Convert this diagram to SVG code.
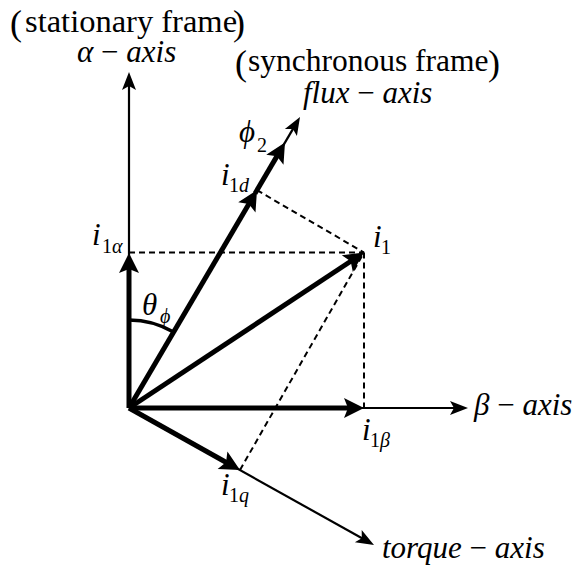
<svg xmlns="http://www.w3.org/2000/svg" width="578" height="571" viewBox="0 0 578 571">
<style>
.t{font-family:"Liberation Serif","Times New Roman","DejaVu Serif",serif;fill:#000}
.i{font-style:italic}
.m{font-size:31px}
.s{font-size:20px}
.p{font-size:36px}
.thin{stroke:#000;stroke-width:2.2;fill:none}
.thick{stroke:#000;stroke-width:5;fill:none}
.dash{stroke:#000;stroke-width:2;stroke-dasharray:6 4;fill:none}
</style>
<defs>
<marker id="ah" markerUnits="userSpaceOnUse" orient="auto" markerWidth="40" markerHeight="40" refX="0" refY="0" style="overflow:visible"><path d="M6,0 L-12,-7 L-8,0 L-12,7 Z" fill="#000"/></marker>
<marker id="ahT" markerUnits="userSpaceOnUse" orient="auto" markerWidth="40" markerHeight="40" refX="0" refY="0" style="overflow:visible"><path d="M10,0 L-10,-10 L-6,0 L-10,10 Z" fill="#000"/></marker>
</defs>
<rect width="578" height="571" fill="#fff"/>
<g id="connectors">
<g id="projections">
<line class="dash" x1="129" y1="252.5" x2="364" y2="252.5"/>
<line class="dash" x1="364" y1="252.5" x2="364" y2="408"/>
<line class="dash" x1="257" y1="190.2" x2="364" y2="252.5"/>
<line class="dash" x1="240" y1="470" x2="364" y2="252.5"/>
</g>
<g id="axes">
<line class="thin" x1="129" y1="408" x2="129" y2="78" marker-end="url(#ah)"/>
<line class="thin" x1="129" y1="408" x2="462" y2="408" marker-end="url(#ah)"/>
<line class="thin" x1="129" y1="408" x2="296.96" y2="122.17" marker-end="url(#ah)"/>
<line class="thin" x1="129" y1="408" x2="368.76" y2="542.07" marker-end="url(#ah)"/>
</g>
<g id="vectors">
<line class="thick" x1="129" y1="408" x2="129" y2="263" marker-end="url(#ahT)"/>
<line class="thick" x1="129" y1="408" x2="354" y2="408" marker-end="url(#ahT)"/>
<line class="thick" x1="129" y1="408" x2="355.66" y2="258.02" marker-end="url(#ahT)"/>
<line class="thick" x1="129" y1="408" x2="251.93" y2="198.82" marker-end="url(#ahT)"/>
<line class="thick" x1="255" y1="193.6" x2="279.93" y2="151.12" marker-end="url(#ahT)"/>
<line class="thick" x1="129" y1="408" x2="231.27" y2="465.2" marker-end="url(#ahT)"/>
</g>
<path id="angle-arc" d="M129,320 A88,88 0 0 1 173.6,332.1" stroke="#000" stroke-width="3.5" fill="none"/>
</g>
<g id="title-stationary">
<text class="t p" x="10" y="35">(</text>
<text class="t" x="25" y="32" style="font-size:32.5px">stationary frame</text>
<text class="t p" x="233" y="35">)</text>
</g>
<g id="title-synchronous">
<text class="t p" x="235" y="75">(</text>
<text class="t" x="248" y="71" style="font-size:31.5px">synchronous frame</text>
<text class="t p" x="488" y="75">)</text>
</g>
<g id="alpha-axis"><text class="t m" x="77" y="62"><tspan class="i">α</tspan> − <tspan class="i">axis</tspan></text></g>
<g id="flux-axis"><text class="t m" x="303" y="103"><tspan class="i">flux</tspan> − <tspan class="i">axis</tspan></text></g>
<g id="beta-axis"><text class="t m" x="474" y="415"><tspan class="i">β</tspan> − <tspan class="i">axis</tspan></text></g>
<g id="torque-axis"><text class="t m" x="382" y="558"><tspan class="i">torque</tspan> − <tspan class="i">axis</tspan></text></g>
<g id="i1alpha"><text class="t i m" x="92" y="245">i</text><text class="t s" x="102" y="253">1<tspan class="i">α</tspan></text></g>
<g id="i1"><text class="t i m" x="373" y="247">i</text><text class="t s" x="381" y="254">1</text></g>
<g id="i1d"><text class="t i m" x="221" y="185">i</text><text class="t s" x="229" y="192">1<tspan class="i">d</tspan></text></g>
<g id="phi2"><text class="t i m" x="239" y="142">ϕ</text><text class="t s" x="257" y="152">2</text></g>
<g id="theta-phi"><text class="t i m" x="142" y="315">θ</text><text class="t i s" x="160" y="323">ϕ</text></g>
<g id="i1beta"><text class="t i m" x="362" y="440">i</text><text class="t s" x="370" y="447">1<tspan class="i">β</tspan></text></g>
<g id="i1q"><text class="t i m" x="221" y="495">i</text><text class="t s" x="229" y="502">1<tspan class="i">q</tspan></text></g>
</svg>
